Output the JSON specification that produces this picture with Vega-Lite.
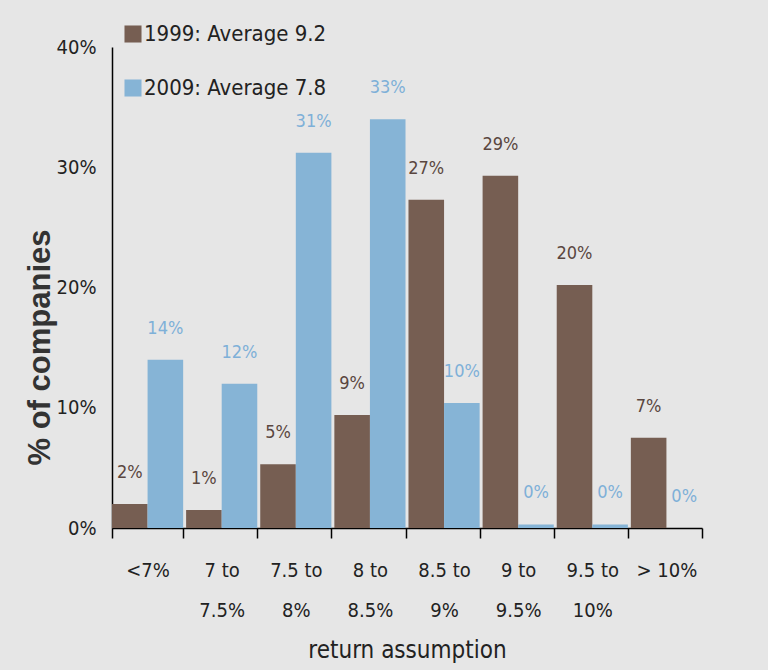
{
  "$schema": "https://vega.github.io/schema/vega-lite/v6.json",
  "width": 590,
  "height": 481,
  "autosize": {"type": "none"},
  "padding": {"left": 112, "top": 47, "right": 66, "bottom": 142},
  "background": "#e6e6e6",
  "config": {
    "view": {"stroke": null},
    "font": "Liberation Sans Narrow, DejaVu Sans Condensed, Liberation Sans, sans-serif"
  },
  "data": {
    "values": [
      {"range": "<7%", "series": "1999: Average 9.2", "pct": 2.0, "label": "2%"},
      {"range": "<7%", "series": "2009: Average 7.8", "pct": 14.0, "label": "14%"},
      {"range": "7 to|7.5%", "series": "1999: Average 9.2", "pct": 1.5, "label": "1%"},
      {"range": "7 to|7.5%", "series": "2009: Average 7.8", "pct": 12.0, "label": "12%"},
      {"range": "7.5 to|8%", "series": "1999: Average 9.2", "pct": 5.3, "label": "5%"},
      {"range": "7.5 to|8%", "series": "2009: Average 7.8", "pct": 31.2, "label": "31%"},
      {"range": "8 to|8.5%", "series": "1999: Average 9.2", "pct": 9.4, "label": "9%"},
      {"range": "8 to|8.5%", "series": "2009: Average 7.8", "pct": 34.0, "label": "33%"},
      {"range": "8.5 to|9%", "series": "1999: Average 9.2", "pct": 27.3, "label": "27%"},
      {"range": "8.5 to|9%", "series": "2009: Average 7.8", "pct": 10.4, "label": "10%"},
      {"range": "9 to|9.5%", "series": "1999: Average 9.2", "pct": 29.3, "label": "29%"},
      {"range": "9 to|9.5%", "series": "2009: Average 7.8", "pct": 0.3, "label": "0%"},
      {"range": "9.5 to|10%", "series": "1999: Average 9.2", "pct": 20.2, "label": "20%"},
      {"range": "9.5 to|10%", "series": "2009: Average 7.8", "pct": 0.3, "label": "0%"},
      {"range": "> 10%", "series": "1999: Average 9.2", "pct": 7.5, "label": "7%"},
      {"range": "> 10%", "series": "2009: Average 7.8", "pct": 0.0, "label": "0%"}
    ]
  },
  "encoding": {
    "x": {
      "field": "range",
      "type": "nominal",
      "sort": null,
      "scale": {"paddingInner": 0.04, "paddingOuter": 0.0},
      "axis": {
        "title": "return assumption",
        "titleFontSize": 24,
        "titleFontWeight": "normal",
        "titleColor": "#222",
        "titlePadding": 18,
        "labelAngle": 0,
        "labelFontSize": 20,
        "labelColor": "#222",
        "labelLineHeight": 40,
        "labelBaseline": "top",
        "labelPadding": 22,
        "labelExpr": "isString(datum.value) ? split(datum.value, '|') : ''",
        "tickBand": "extent",
        "tickSize": 10,
        "tickColor": "black",
        "tickWidth": 1.5,
        "domainColor": "black",
        "domainWidth": 1.5
      }
    },
    "xOffset": {
      "field": "series",
      "type": "nominal",
      "sort": null
    },
    "y": {
      "field": "pct",
      "type": "quantitative",
      "scale": {"domain": [0, 40], "nice": false},
      "axis": {
        "values": [0, 10, 20, 30, 40],
        "labelExpr": "datum.value + '%'",
        "labelFontSize": 20,
        "labelColor": "#222",
        "labelPadding": 16,
        "ticks": false,
        "grid": false,
        "domainColor": "black",
        "domainWidth": 1.5,
        "title": "% of companies",
        "titleFont": "Liberation Sans",
        "titleFontSize": 31,
        "titleFontWeight": "bold",
        "titleColor": "#333",
        "titleAngle": -90,
        "titleX": -72,
        "titleY": 300,
        "titleBaseline": "middle",
        "titleAlign": "center"
      }
    }
  },
  "layer": [
    {
      "mark": {"type": "bar"},
      "encoding": {
        "color": {
          "field": "series",
          "type": "nominal",
          "sort": null,
          "scale": {"range": ["#765e52", "#86b4d6"]},
          "legend": {
            "orient": "none",
            "legendX": 10,
            "legendY": -24,
            "title": null,
            "padding": 0,
            "symbolType": "square",
            "symbolSize": 290,
            "labelFontSize": 22,
            "labelColor": "#222",
            "labelOffset": 0,
            "labelLimit": 400,
            "rowPadding": 32
          }
        }
      }
    },
    {
      "mark": {"type": "text", "dy": -31, "fontSize": 18, "baseline": "middle", "align": "center"},
      "encoding": {
        "text": {"field": "label"},
        "color": {
          "condition": {"test": "datum.series == '1999: Average 9.2'", "value": "#5a4640"},
          "value": "#7eb0d8"
        }
      }
    }
  ]
}
